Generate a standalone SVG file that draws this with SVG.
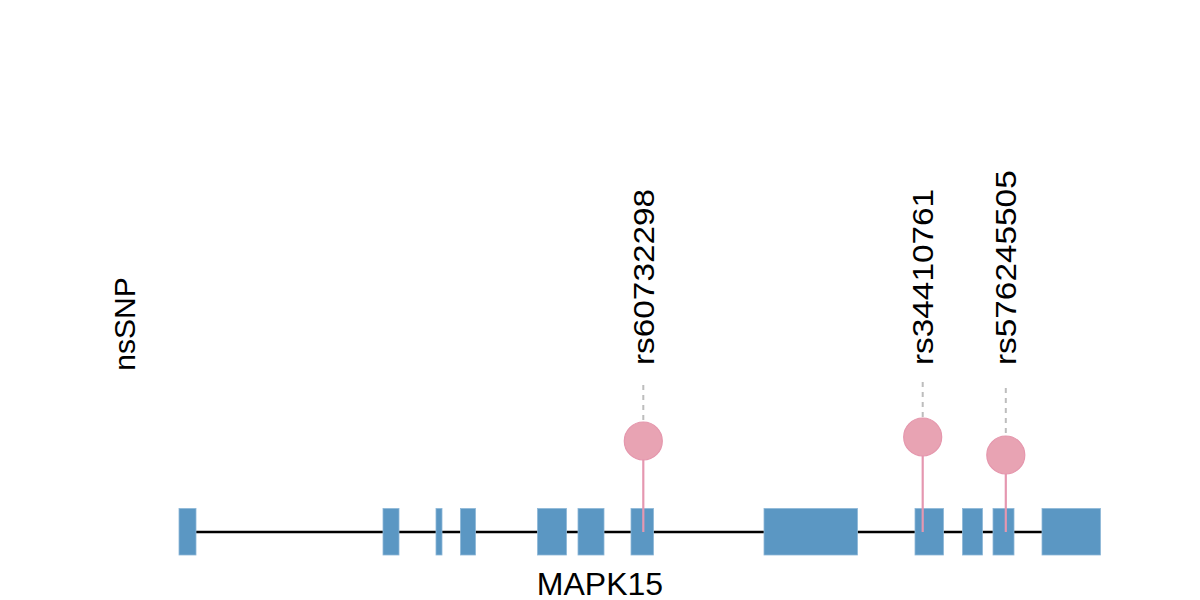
<svg xmlns="http://www.w3.org/2000/svg" width="1200" height="600" viewBox="0 0 1200 600">
<style>
.exon{fill:#5b97c3;stroke:#8db7d8;stroke-width:0.8}
.intron{stroke:#000;stroke-width:2.5;fill:none}
.stem{stroke:#e597b0;stroke-width:2.2}
.dash{stroke:#bdbdbd;stroke-width:2;stroke-dasharray:5,5}
.snp{fill:#e8a3b3;stroke:#e597ad;stroke-width:1.2}
.lbl{font-family:"Liberation Sans",Arial,sans-serif;fill:#000}
.rs{font-size:29px}
</style>
<rect width="1200" height="600" fill="#fff"/>
<g id="gene">
<line class="intron" x1="190" y1="532" x2="1045" y2="532"/>
<rect class="exon" x="179" y="508.5" width="17" height="46.5"/>
<rect class="exon" x="383" y="508.5" width="16" height="46.5"/>
<rect class="exon" x="436" y="508.5" width="6" height="46.5"/>
<rect class="exon" x="460.5" y="508.5" width="15" height="46.5"/>
<rect class="exon" x="537.5" y="508.5" width="29" height="46.5"/>
<rect class="exon" x="578" y="508.5" width="26" height="46.5"/>
<rect class="exon" x="631" y="508.5" width="22.5" height="46.5"/>
<rect class="exon" x="764" y="508.5" width="93.5" height="46.5"/>
<rect class="exon" x="915" y="508.5" width="28.5" height="46.5"/>
<rect class="exon" x="962.5" y="508.5" width="20" height="46.5"/>
<rect class="exon" x="993" y="508.5" width="21" height="46.5"/>
<rect class="exon" x="1042" y="508.5" width="58.5" height="46.5"/>
</g>
<g id="connectors">
<line class="stem" x1="643.3" y1="441" x2="643.3" y2="532"/>
<line class="stem" x1="922.7" y1="437" x2="922.7" y2="532"/>
<line class="stem" x1="1005.8" y1="455" x2="1005.8" y2="532"/>
<line class="dash" x1="643.3" y1="385" x2="643.3" y2="421"/>
<line class="dash" x1="922.7" y1="382" x2="922.7" y2="417"/>
<line class="dash" x1="1005.8" y1="388" x2="1005.8" y2="435"/>
</g>
<g id="snp1">
<circle class="snp" cx="643.3" cy="441" r="19"/>
<text class="lbl rs" transform="translate(653.5,365) rotate(-90) scale(1.15,1)">rs60732298</text>
</g>
<g id="snp2">
<circle class="snp" cx="922.7" cy="437" r="19"/>
<text class="lbl rs" transform="translate(933.3,365) rotate(-90) scale(1.15,1)">rs34410761</text>
</g>
<g id="snp3">
<circle class="snp" cx="1005.8" cy="455" r="19"/>
<text class="lbl rs" transform="translate(1015.5,365) rotate(-90) scale(1.15,1)">rs576245505</text>
</g>
<g id="track-label">
<text class="lbl" font-size="30" text-anchor="middle" transform="translate(134.5,324) rotate(-90)">nsSNP</text>
</g>
<g id="gene-label">
<text class="lbl" font-size="32" text-anchor="middle" x="600" y="595">MAPK15</text>
</g>
</svg>
